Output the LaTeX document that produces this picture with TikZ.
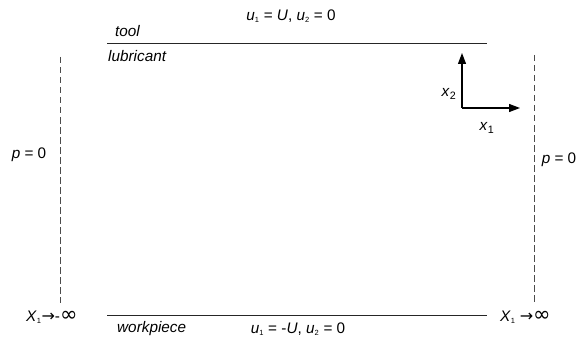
\documentclass[tikz,border=0pt]{standalone}
\usepackage{fontspec}
\setmainfont{Liberation Sans}
\newfontfamily\symf{DejaVu Sans}
\usetikzlibrary{arrows.meta}
\newcommand{\sbs}[1]{\textsubscript{\upshape\fontsize{7.5}{8}\selectfont #1}}
\begin{document}
\begin{tikzpicture}[x=1pt,y=-1pt,
  lbl/.style={font=\fontsize{15.3}{17}\selectfont, inner sep=0pt},
  wall/.style={line width=0.9pt, black!85},
  bound/.style={line width=0.6pt, black!70, dash pattern=on 6.5pt off 3.5pt},
  axis/.style={line width=1.2pt, -{Triangle[length=11pt,width=8pt]}}]
\useasboundingbox (0,0) rectangle (583,342);
% boundaries
\coordinate (tl) at (107,43); \coordinate (tr) at (487,43);
\coordinate (bl) at (107,315); \coordinate (br) at (487,315);
\draw[wall] (tl) -- (tr);
\draw[wall] (bl) -- (br);
\coordinate (lt) at (60,57); \coordinate (lb) at (60,303);
\coordinate (rt) at (534,55); \coordinate (rb) at (534,303);
\draw[bound] (lt) -- (lb);
\draw[bound] (rt) -- (rb);
% labels
\node[lbl] (ut) at (291,16) {\textit{u}\sbs{1} = \textit{U}, \textit{u}\sbs{2} = 0};
\node[lbl, anchor=west] (tool) at (115,31) {\textit{tool}};
\node[lbl, anchor=west] (lub) at (108,56) {\textit{lubricant}};
\node[lbl, anchor=west] (wp) at (117,329) {\textit{workpiece}};
\node[lbl] (ub) at (298,329) {\textit{u}\sbs{1} = -\textit{U}, \textit{u}\sbs{2} = 0};
\node[lbl] (pl) at (29,155) {\textit{p} = 0};
\node[lbl] (pr) at (559,160) {\textit{p} = 0};
\node[lbl, anchor=west] (xl) at (26,317) {\textit{X}\sbs{1}{\symf\fontsize{16}{12}\selectfont→}-{\symf\fontsize{21}{14}\selectfont∞}};
\node[lbl, anchor=west] (xr) at (500,317) {\textit{X}\sbs{1} {\symf\fontsize{16}{12}\selectfont→}{\symf\fontsize{21}{14}\selectfont∞}};
% axes
\coordinate (o) at (462,108);
\coordinate (ay) at (462,53);
\coordinate (ax) at (520,108);
\draw[axis] (o) -- (ay);
\draw[axis] (o) -- (ax);
\node[lbl] (x2) at (449,94) {\textit{x}\textsubscript{2}};
\node[lbl] (x1) at (487,128) {\textit{x}\textsubscript{1}};
\end{tikzpicture}
\end{document}
